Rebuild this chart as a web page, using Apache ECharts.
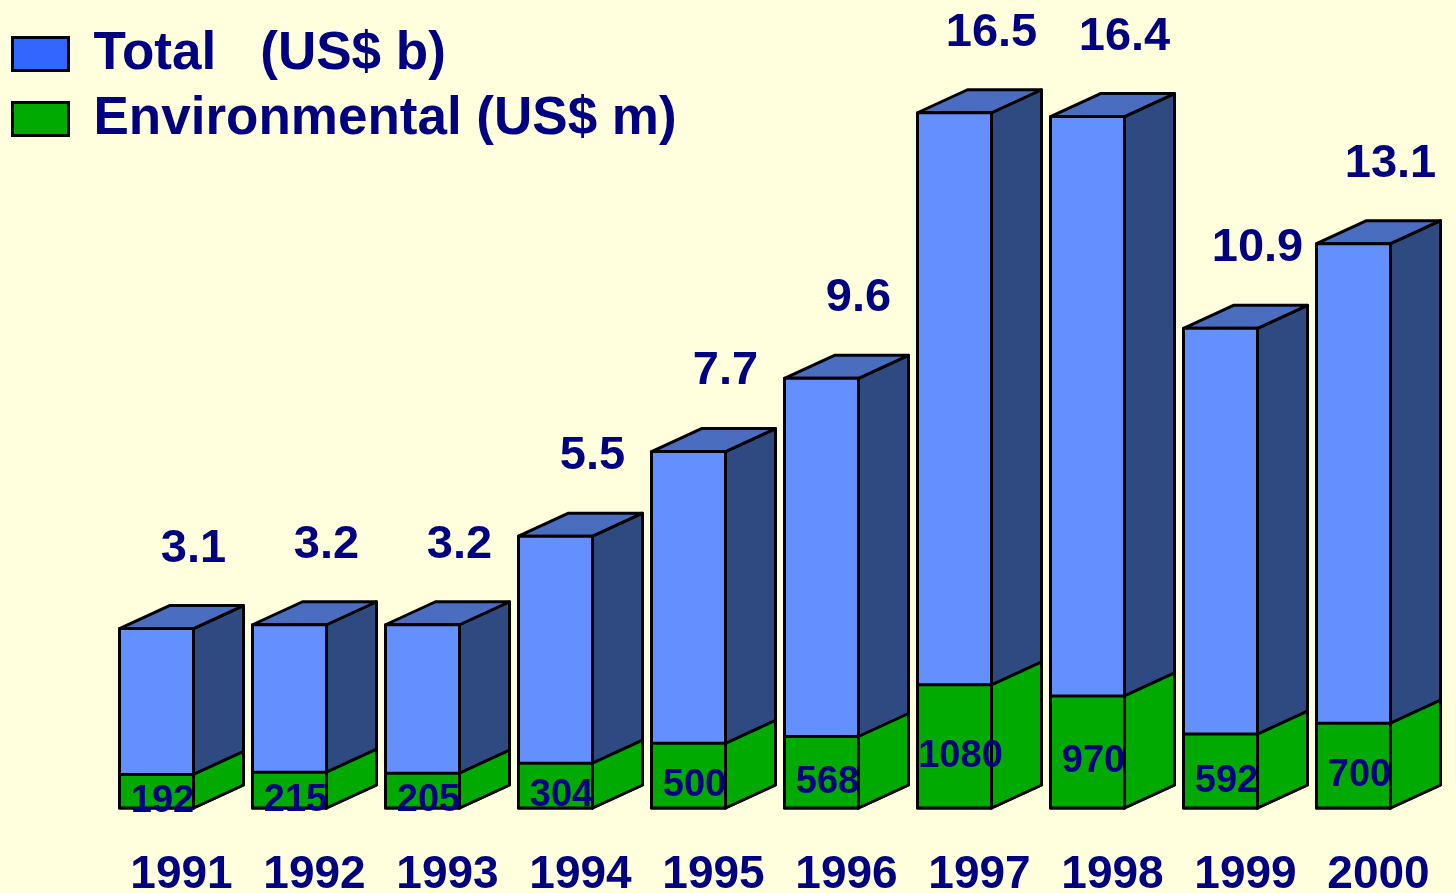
<!DOCTYPE html>
<html>
<head>
<meta charset="utf-8">
<script src="https://cdn.jsdelivr.net/npm/echarts@6/dist/echarts.min.js"></script>
<style>
  html, body { margin: 0; padding: 0; background: #ffffdd; }
  #chart { width: 1456px; height: 893px; }
</style>
</head>
<body>
<div id="chart"></div>
<script>
const years = ['1991', '1992', '1993', '1994', '1995', '1996', '1997', '1998', '1999', '2000']
const totalValues = [3.1, 3.2, 3.2, 5.5, 7.7, 9.6, 16.5, 16.4, 10.9, 13.1]
const envValues = [192, 215, 205, 304, 500, 568, 1080, 970, 592, 700]

const totalName = 'Total   (US$ b)'
const envName = 'Environmental (US$ m)'

// the original is drawn by hand, so the axes start below zero to keep its proportions
const totalMin = -1.56
const totalMax = 18
const envMin = -140
const envMax = 7315

const textColor = '#000080'
const fontFamily = '"Liberation Sans", Arial, sans-serif'
const frontW = 74
const depthX = 50
const depthY = 23

const boxShapes = (params, api, yMin, colors) => {
  const idx = api.value(0)
  const base = api.coord([idx, yMin])
  const top = api.coord([idx, api.value(1)])
  const x0 = base[0] - (frontW + depthX) / 2
  const x1 = x0 + frontW
  const stroke = { stroke: '#000', lineWidth: 3, lineJoin: 'round' }
  return {
    x0,
    x1,
    top: top[1],
    base: base[1],
    children: [
      {
        type: 'polygon',
        shape: { points: [[x1, top[1]], [x1 + depthX, top[1] - depthY], [x1 + depthX, base[1] - depthY], [x1, base[1]]] },
        style: { fill: colors.side, ...stroke }
      },
      {
        type: 'polygon',
        shape: { points: [[x0, top[1]], [x0 + depthX, top[1] - depthY], [x1 + depthX, top[1] - depthY], [x1, top[1]]] },
        style: { fill: colors.top, ...stroke }
      },
      {
        type: 'rect',
        shape: { x: x0, y: top[1], width: frontW, height: base[1] - top[1] },
        style: { fill: colors.front, ...stroke }
      }
    ]
  }
}

const renderTotal = (params, api) => {
  const box = boxShapes(params, api, totalMin, { front: '#6490ff', side: '#2f4a80', top: '#4a6dc0' })
  box.children.push({
    type: 'text',
    x: box.x1,
    y: box.top - 80,
    style: {
      text: String(api.value(1)),
      fill: textColor,
      font: 'bold 47px ' + fontFamily,
      align: 'center',
      verticalAlign: 'middle'
    }
  })
  return { type: 'group', children: box.children }
}

const renderEnv = (params, api) => {
  const box = boxShapes(params, api, envMin, { front: '#00aa00', side: '#00aa00', top: '#00aa00' })
  // no visible top face for the green part
  box.children.splice(1, 1)
  box.children.push({
    type: 'text',
    x: (box.x0 + box.x1) / 2 + 6,
    y: (box.top + box.base) / 2 + 10,
    style: {
      text: String(api.value(1)),
      fill: textColor,
      font: 'bold 38px ' + fontFamily,
      align: 'center',
      verticalAlign: 'middle'
    }
  })
  return { type: 'group', children: box.children }
}

const chart = echarts.init(document.getElementById('chart'))

const option = {
  backgroundColor: '#ffffdd',
  animation: false,
  legend: {
    orient: 'vertical',
    left: 6,
    top: 19,
    itemWidth: 56,
    itemHeight: 33,
    itemGap: 5,
    selectedMode: false,
    textStyle: {
      color: textColor,
      fontSize: 53,
      fontWeight: 'bold',
      fontFamily: fontFamily,
      lineHeight: 60,
      padding: [0, 0, 0, 20]
    },
    data: [
      { name: totalName, icon: 'rect', itemStyle: { color: '#3366ff', borderColor: '#000', borderWidth: 3 } },
      { name: envName, icon: 'rect', itemStyle: { color: '#00aa00', borderColor: '#000', borderWidth: 3 } }
    ]
  },
  grid: {
    left: 115,
    right: 11,
    top: 55,
    bottom: 85,
    outerBoundsMode: 'none'
  },
  xAxis: {
    type: 'category',
    data: years,
    axisLine: { show: false },
    axisTick: { show: false },
    axisLabel: {
      interval: 0,
      hideOverlap: false,
      color: textColor,
      fontSize: 46,
      fontWeight: 'bold',
      fontFamily: fontFamily,
      margin: 44
    }
  },
  yAxis: [
    { type: 'value', min: totalMin, max: totalMax, show: false },
    { type: 'value', min: envMin, max: envMax, show: false }
  ],
  series: [
    {
      name: totalName,
      type: 'custom',
      yAxisIndex: 0,
      renderItem: renderTotal,
      itemStyle: { color: '#3366ff' },
      data: totalValues.map((v, i) => [i, v])
    },
    {
      name: envName,
      type: 'custom',
      yAxisIndex: 1,
      renderItem: renderEnv,
      itemStyle: { color: '#00aa00' },
      data: envValues.map((v, i) => [i, v])
    }
  ]
}

chart.setOption(option)
</script>
</body>
</html>
